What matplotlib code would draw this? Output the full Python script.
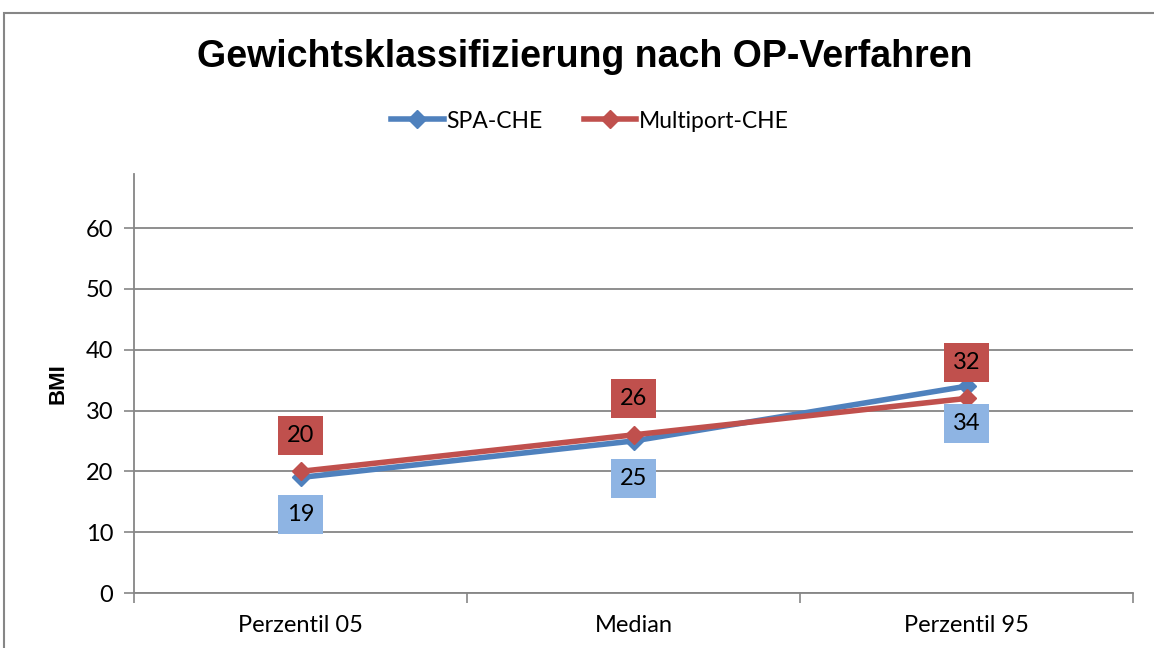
import matplotlib.pyplot as plt
from matplotlib.patches import Rectangle

categories = ['Perzentil 05', 'Median', 'Perzentil 95']
spa_che = [19, 25, 34]
multiport_che = [20, 26, 32]
y_ticks = [0, 10, 20, 30, 40, 50, 60]

blue = '#4F81BD'
red = '#C0504D'
blue_box = '#8EB4E3'
grey = '#868686'
body_font = ['Lato', 'DejaVu Sans']

fig = plt.figure(figsize=(11.54, 6.48), dpi=100)
ax = fig.add_axes([134 / 1154, 1 - 593 / 648, 999 / 1154, 419 / 648])

# chart frame
fig.patches.append(Rectangle((4 / 1154, -0.1), 1.2, 1.1 - 13.5 / 648,
                             transform=fig.transFigure, fill=False,
                             edgecolor=grey, linewidth=1.5))

x = range(len(categories))
ax.plot(x, spa_che, color=blue, lw=4, marker='D', ms=9.5, label='SPA-CHE',
        solid_joinstyle='miter', zorder=3)
ax.plot(x, multiport_che, color=red, lw=4, marker='D', ms=9.5, label='Multiport-CHE',
        solid_joinstyle='miter', zorder=4)

for i, v in enumerate(multiport_che):
    ax.annotate(str(v), (i, v), xytext=(0, 26), textcoords='offset points',
                ha='center', va='center', fontsize=17, family=body_font,
                bbox=dict(boxstyle='square,pad=0.38', fc=red, ec='none'), zorder=5)
for i, v in enumerate(spa_che):
    ax.annotate(str(v), (i, v), xytext=(0, -27), textcoords='offset points',
                ha='center', va='center', fontsize=17, family=body_font,
                bbox=dict(boxstyle='square,pad=0.38', fc=blue_box, ec='none'), zorder=5)

ax.set_xlim(-0.5, 2.5)
ax.set_ylim(0, 68.9)
ax.set_yticks(y_ticks)
ax.set_xticks([-0.5, 0.5, 1.5, 2.5], minor=False)
ax.set_xticklabels([])
ax.set_xticks(list(x), minor=True)
ax.set_xticklabels(categories, minor=True, fontsize=17, family=body_font)
ax.tick_params(axis='x', which='minor', length=0, pad=16)
ax.tick_params(axis='x', which='major', length=7, color=grey, width=1.2)
ax.tick_params(axis='y', length=7, color=grey, width=1.2, labelsize=17, pad=8)
for lab in ax.get_yticklabels():
    lab.set_family(body_font)

ax.grid(axis='y', color=grey, lw=1.3)
ax.set_axisbelow(True)
for s in ['top', 'right']:
    ax.spines[s].set_visible(False)
for s in ['left', 'bottom']:
    ax.spines[s].set_color(grey)
    ax.spines[s].set_linewidth(1.3)

ax.set_ylabel('BMI', fontsize=16, fontweight='bold', family='Liberation Sans', labelpad=12)

fig.text(0.507, 1 - 57 / 648, 'Gewichtsklassifizierung nach OP-Verfahren',
         ha='center', va='center', fontsize=27, fontweight='bold', family='Liberation Sans')

fig.legend(loc='center', bbox_to_anchor=(0.511, 1 - 121 / 648), ncol=2, frameon=False,
           prop={'family': body_font, 'size': 16.5}, handlelength=2.3, handletextpad=0.1,
           columnspacing=1.8)

fig.savefig('out.png', dpi=100)
